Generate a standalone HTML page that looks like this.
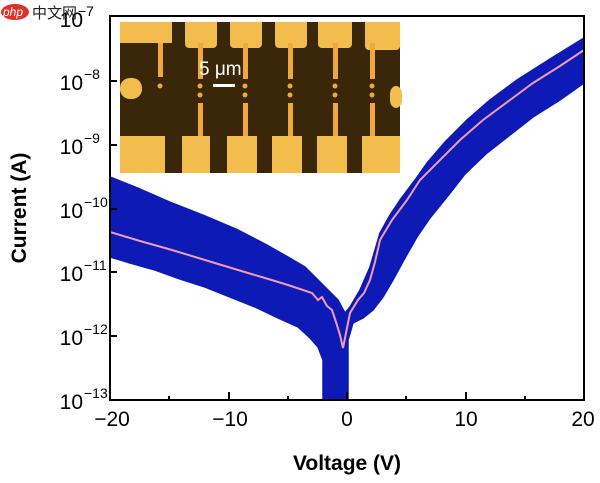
<!DOCTYPE html>
<html><head><style>
body{margin:0;background:#fff;width:600px;height:478px;overflow:hidden;font-family:"Liberation Sans",sans-serif}
</style></head><body>
<svg width="600" height="478" viewBox="0 0 600 478" xmlns="http://www.w3.org/2000/svg" font-family="Liberation Sans, sans-serif">
<defs><clipPath id="c"><rect x="110" y="16" width="474" height="384"/></clipPath></defs>
<g clip-path="url(#c)">
<polygon fill="#0d1ab5" stroke="#0d1ab5" stroke-width="1.5" stroke-linejoin="round" points="110,177 140,189 172,203 205,216 238,230 265,244 288,257 305,267 318,280 330,292 338,300 345,313 350,307 360,290 370,267 380,233 390,215 400,200 415,180 427,163 445,142 467,120 490,100 517,80 550,59 584,38 584,83 560,100 533,117 510,135 487,153 465,174 447,197 430,218 417,237 405,258 393,280 383,297 373,310 363,318 353,323 348,340 348,400 323,400 323,360 318,347 310,338 298,327 278,318 255,307 230,297 205,287 180,279 155,270 130,263 110,257"/>
<polyline fill="none" stroke="#f29bb5" stroke-width="2" points="110,232 140,241 172,250 205,260 238,270 265,278 288,285 300,289 312,293 318,300 322,297 327,306 332,310 336,322 340,335 343,348 346,333 350,313 358,300 364,293 370,280 375,262 380,240 392,220 407,200 420,180 440,160 460,140 483,120 510,100 533,83 560,66 584,50"/>
</g>
<rect x="110" y="16" width="474" height="384" fill="none" stroke="#000" stroke-width="2"/>
<g stroke="#000" stroke-width="2">
<line x1="110" y1="400" x2="110" y2="392"/><line x1="229" y1="400" x2="229" y2="392"/><line x1="347" y1="400" x2="347" y2="392"/><line x1="466" y1="400" x2="466" y2="392"/>
<line x1="169" y1="400" x2="169" y2="396"/><line x1="288" y1="400" x2="288" y2="396"/><line x1="406" y1="400" x2="406" y2="396"/><line x1="525" y1="400" x2="525" y2="396"/>
<line x1="110" y1="81" x2="117" y2="81"/><line x1="110" y1="145" x2="117" y2="145"/><line x1="110" y1="209" x2="117" y2="209"/><line x1="110" y1="272" x2="117" y2="272"/><line x1="110" y1="336" x2="117" y2="336"/>
</g>
<g stroke="#000" stroke-width="1.2" id="mt"></g>
<script>
var g=document.getElementById('mt'),s='';
for(var d=0;d<6;d++){var base=400-64*d;for(var k=2;k<10;k++){var y=base-Math.log10(k)*64;s+='<line x1="110" x2="114" y1="'+y+'" y2="'+y+'"/>';}}
g.innerHTML=s;
</script>
<g font-size="21" fill="#000" text-anchor="middle">
<text x="112" y="426">−20</text><text x="230" y="426">−10</text><text x="347" y="426">0</text><text x="466" y="426">10</text><text x="583" y="426">20</text>
</g>
<g font-size="21" fill="#000" text-anchor="end">
<text x="83" y="27">10</text><text x="83" y="90">10</text><text x="83" y="154">10</text><text x="83" y="218">10</text><text x="83" y="281">10</text><text x="83" y="345">10</text><text x="83" y="409">10</text>
</g>
<g font-size="14" fill="#000">
<text x="78" y="16">−7</text><text x="84" y="79">−8</text><text x="84" y="143">−9</text><text x="84" y="207">−10</text><text x="84" y="270">−11</text><text x="84" y="334">−12</text><text x="84" y="398">−13</text>
</g>
<text x="347" y="470" font-size="21" font-weight="bold" text-anchor="middle">Voltage (V)</text>
<text transform="translate(26,208) rotate(-90)" font-size="21" font-weight="bold" text-anchor="middle">Current (A)</text>
<g>
<rect x="120" y="22" width="280" height="151" fill="#f2bd4c"/>
<rect x="120" y="43" width="280" height="93" fill="#3a2608"/>
<g fill="#3a2608">
<rect x="172" y="22" width="13" height="22"/><rect x="217" y="22" width="13" height="22"/><rect x="262" y="22" width="13" height="22"/><rect x="307" y="22" width="11" height="22"/><rect x="352" y="22" width="13" height="22"/>
<rect x="165" y="134" width="17" height="39"/><rect x="210" y="134" width="17" height="39"/><rect x="257" y="134" width="15" height="39"/><rect x="302" y="134" width="15" height="39"/><rect x="347" y="134" width="15" height="39"/>
</g>
<g fill="#f2bd4c">
<rect x="185" y="40" width="32" height="8" rx="4"/><rect x="230" y="40" width="32" height="8" rx="4"/><rect x="275" y="40" width="32" height="8" rx="4"/><rect x="318" y="40" width="34" height="8" rx="4"/><rect x="365" y="40" width="35" height="10" rx="4"/>
</g>
<g fill="#f0a83a">
<rect x="158" y="43" width="5" height="34"/><rect x="198" y="43" width="5" height="36"/><rect x="243" y="43" width="5" height="36"/><rect x="288" y="43" width="5" height="36"/><rect x="333" y="43" width="5" height="36"/><rect x="370" y="43" width="5" height="36"/>
<rect x="198" y="103" width="5" height="33"/><rect x="243" y="103" width="5" height="33"/><rect x="288" y="103" width="5" height="33"/><rect x="333" y="103" width="5" height="33"/><rect x="370" y="103" width="5" height="33"/>
<circle cx="160" cy="86" r="2.5"/><circle cx="200" cy="86" r="2.5"/><circle cx="200" cy="95" r="2.5"/><circle cx="245" cy="86" r="2.5"/><circle cx="245" cy="95" r="2.5"/><circle cx="290" cy="86" r="2.5"/><circle cx="290" cy="95" r="2.5"/><circle cx="335" cy="86" r="2.5"/><circle cx="335" cy="95" r="2.5"/><circle cx="372" cy="86" r="2.5"/><circle cx="372" cy="95" r="2.5"/>
</g>
<rect x="120" y="78" width="22" height="21" rx="10" fill="#f2bd4c"/>
<rect x="390" y="86" width="12" height="22" rx="8" fill="#f2bd4c"/>
<text x="199" y="75" font-size="19" fill="#fff">5 μm</text>
<rect x="213" y="84" width="22" height="3" fill="#fff"/>
</g>
<ellipse cx="15" cy="12" rx="14" ry="8" fill="#e0302a"/>
<text x="3" y="16" font-size="12" font-style="italic" fill="#fff">php</text>
<text x="32" y="18" font-size="15" fill="#222" font-family="Liberation Sans, Noto Sans CJK SC, sans-serif">中文网</text>
</svg>
</body></html>
